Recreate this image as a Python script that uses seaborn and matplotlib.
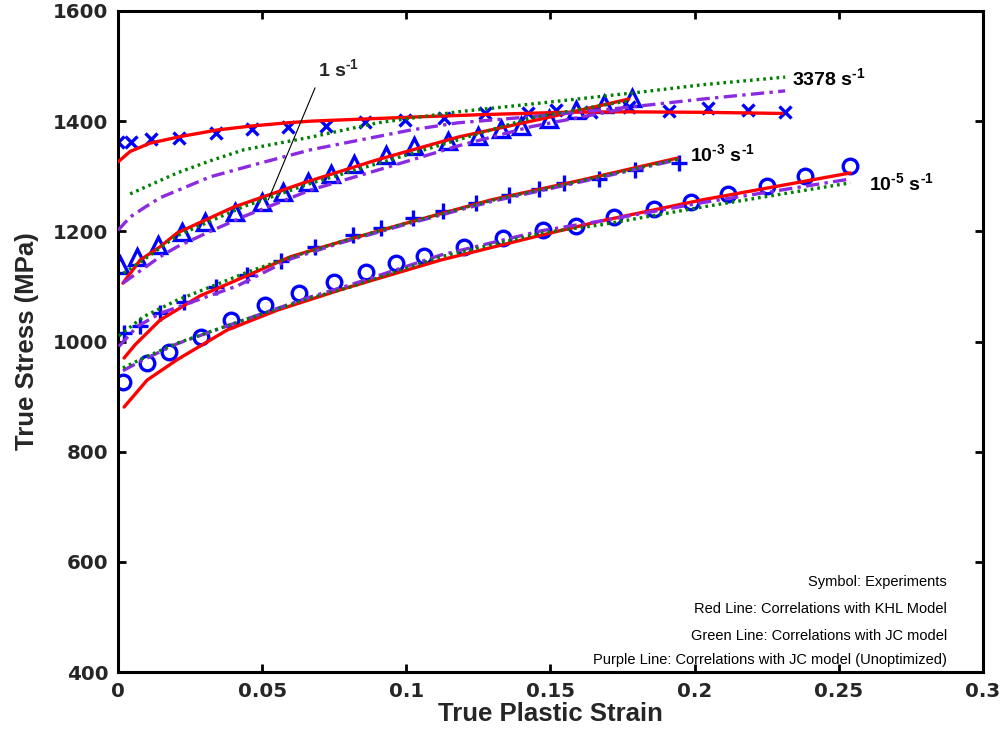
import numpy as np
import pandas as pd
import matplotlib
matplotlib.use("Agg")
import matplotlib.pyplot as plt
import seaborn as sns

sns.set_theme(style="white")
plt.rcParams["font.family"] = ["Liberation Sans", "DejaVu Sans"]
plt.rcParams["mathtext.fontset"] = "custom"
plt.rcParams["mathtext.rm"] = "Liberation Sans"
plt.rcParams["mathtext.bf"] = "Liberation Sans:bold"

# ---- Experimental data (true plastic strain, true stress in MPa) ----
exp_3378_strain = [0.0, 0.0045, 0.0115, 0.0212, 0.034, 0.0466, 0.0588, 0.072, 0.0856, 0.0995,
                   0.113, 0.1273, 0.1423, 0.152, 0.1642, 0.1771, 0.191, 0.2046, 0.2185, 0.2314]
exp_3378_stress = [1362, 1362, 1368, 1370, 1379, 1386, 1390, 1391, 1398, 1402,
                   1406, 1414, 1414, 1420, 1416, 1425, 1418, 1423, 1420, 1416]

exp_1_strain = [0.0007, 0.0066, 0.0139, 0.0223, 0.0303, 0.0407, 0.0501, 0.0571, 0.0658, 0.0738,
                0.0818, 0.0929, 0.1027, 0.1145, 0.1249, 0.1329, 0.1399, 0.1496, 0.159, 0.1684, 0.1781]
exp_1_stress = [1139, 1153, 1175, 1199, 1217, 1235, 1253, 1271, 1289, 1304,
                1322, 1338, 1355, 1364, 1373, 1386, 1391, 1404, 1420, 1432, 1442]

exp_1e3_strain = [0.0021, 0.0077, 0.0146, 0.023, 0.0341, 0.0449, 0.0564, 0.0682, 0.0814, 0.0912,
                  0.1023, 0.1127, 0.1242, 0.1357, 0.1461, 0.1548, 0.1667, 0.1792, 0.1945]
exp_1e3_stress = [1016, 1028, 1052, 1072, 1099, 1121, 1146, 1172, 1193, 1206,
                  1224, 1237, 1251, 1266, 1277, 1288, 1295, 1311, 1324]

exp_1e5_strain = [0.0017, 0.0101, 0.0178, 0.0289, 0.0393, 0.0511, 0.0626, 0.0748, 0.0859, 0.0964,
                  0.1061, 0.12, 0.1336, 0.1475, 0.159, 0.1719, 0.1858, 0.1987, 0.2115, 0.2251,
                  0.2383, 0.254]
exp_1e5_stress = [927, 961, 981, 1008, 1039, 1066, 1088, 1108, 1126, 1143,
                  1155, 1172, 1188, 1203, 1210, 1226, 1241, 1253, 1268, 1282,
                  1300, 1319]

# ---- KHL model correlations ----
khl_3378_strain = [0.0, 0.0042, 0.0111, 0.0216, 0.0344, 0.0459, 0.0588, 0.0668, 0.1051, 0.1273,
                   0.1538, 0.1747, 0.2035, 0.2303]
khl_3378_stress = [1326, 1345, 1360, 1372, 1384, 1391, 1397, 1400, 1408, 1412,
                   1416, 1417, 1416, 1414]

khl_1_strain = [0.0017, 0.0077, 0.0146, 0.0205, 0.0401, 0.0644, 0.09, 0.1179, 0.1468, 0.1771]
khl_1_stress = [1106, 1148, 1172, 1197, 1244, 1288, 1330, 1371, 1404, 1440]

khl_1e3_strain = [0.0021, 0.0059, 0.0146, 0.0285, 0.0414, 0.0599, 0.0772, 0.098, 0.1294, 0.1607, 0.1941]
khl_1e3_stress = [970, 994, 1039, 1083, 1112, 1154, 1181, 1212, 1257, 1293, 1333]

khl_1e5_strain = [0.0021, 0.0101, 0.0205, 0.0379, 0.0553, 0.0790, 0.1120, 0.1468, 0.1677, 0.2025, 0.254]
khl_1e5_stress = [881, 930, 967, 1021, 1057, 1097, 1148, 1193, 1219, 1257, 1306]

# ---- JC model correlations (optimized) ----
jc_3378_strain = [0.0042, 0.0205, 0.0320, 0.0436, 0.0668, 0.0901, 0.1179, 0.1433, 0.1816, 0.2025, 0.2314]
jc_3378_stress = [1268, 1306, 1328, 1348, 1371, 1397, 1417, 1431, 1453, 1466, 1480]

jc_1_strain = [0.0019, 0.0088, 0.0205, 0.0436, 0.0668, 0.09, 0.1179, 0.1433, 0.1771]
jc_1_stress = [1124, 1148, 1192, 1245, 1287, 1323, 1366, 1406, 1437]

jc_1e3_strain = [0.0003, 0.0088, 0.0205, 0.0320, 0.0459, 0.0599, 0.0772, 0.098, 0.1294, 0.1607, 0.1941]
jc_1e3_stress = [1010, 1045, 1075, 1099, 1128, 1153, 1181, 1212, 1256, 1292, 1331]

jc_1e5_strain = [0.0017, 0.0088, 0.0205, 0.0436, 0.0668, 0.0807, 0.1120, 0.1468, 0.1677, 0.2025, 0.254]
jc_1e5_stress = [952, 970, 997, 1039, 1079, 1099, 1154, 1197, 1212, 1244, 1288]

# ---- JC model correlations (unoptimized) ----
jcu_3378_strain = [0.0, 0.0042, 0.0094, 0.0146, 0.0320, 0.0494, 0.0668, 0.0783, 0.1016, 0.1179,
                   0.1433, 0.1747, 0.2025, 0.2314]
jcu_3378_stress = [1202, 1226, 1244, 1261, 1299, 1324, 1348, 1360, 1384, 1397,
                   1408, 1424, 1440, 1455]

jcu_1_strain = [0.0017, 0.0146, 0.0205, 0.0320, 0.0436, 0.0668, 0.09, 0.1179, 0.1433, 0.1771]
jcu_1_stress = [1106, 1154, 1172, 1200, 1227, 1275, 1311, 1355, 1390, 1424]

jcu_1e3_strain = [0.0003, 0.0066, 0.0146, 0.0285, 0.0414, 0.0599, 0.0772, 0.098, 0.1294, 0.1607, 0.1941]
jcu_1e3_stress = [991, 1027, 1051, 1077, 1101, 1150, 1179, 1210, 1254, 1290, 1330]

jcu_1e5_strain = [0.0017, 0.0088, 0.0205, 0.0436, 0.0668, 0.0807, 0.1120, 0.1468, 0.1677, 0.2025, 0.254]
jcu_1e5_stress = [947, 967, 996, 1039, 1081, 1103, 1157, 1201, 1219, 1252, 1295]

rate_labels = ["3378 s$^{\\mathbf{\u20101}}$", "1 s$^{\\mathbf{\u20101}}$",
               "10$^{\\mathbf{\u20103}}$ s$^{\\mathbf{\u20101}}$",
               "10$^{\\mathbf{\u20105}}$ s$^{\\mathbf{\u20101}}$"]
legend_lines = ["Symbol: Experiments",
                "Red Line: Correlations with KHL Model",
                "Green Line: Correlations with JC model",
                "Purple Line: Correlations with JC model (Unoptimized)"]
legend_y = [564, 515, 466, 422]

x_ticks = [0, 0.05, 0.1, 0.15, 0.2, 0.25, 0.3]
x_ticklabels = ["0", "0.05", "0.1", "0.15", "0.2", "0.25", "0.3"]
y_ticks = [400, 600, 800, 1000, 1200, 1400, 1600]

BLUE = "#0000FF"
RED = "#FF0000"
GREEN = "#007F00"
PURPLE = "#8A2BE2"

fig = plt.figure(figsize=(10.02, 7.42), dpi=100)
ax = fig.add_axes([0.1178, 0.0943, 0.8632, 0.8909])

# experimental symbols
symbols = [
    (exp_3378_strain, exp_3378_stress, "x", 9, 2.4),
    (exp_1_strain, exp_1_stress, "^", 12, 2.4),
    (exp_1e3_strain, exp_1e3_stress, "+", 11, 2.4),
    (exp_1e5_strain, exp_1e5_stress, "o", 10.5, 2.4),
]
for xs, ys, mk, ms, mew in symbols:
    sns.lineplot(x=xs, y=ys, ax=ax, estimator=None, sort=False, linestyle="",
                 marker=mk, markersize=ms, markeredgewidth=mew, markerfacecolor="none",
                 markeredgecolor=BLUE, color=BLUE, zorder=2)

# model correlations
DASHDOT = (0, (4.0, 1.6, 1.0, 1.6))
DOTTED = (0, (0.8, 1.2))
curves = [
    (khl_3378_strain, khl_3378_stress, RED, "-"),
    (khl_1_strain, khl_1_stress, RED, "-"),
    (khl_1e3_strain, khl_1e3_stress, RED, "-"),
    (khl_1e5_strain, khl_1e5_stress, RED, "-"),
    (jcu_3378_strain, jcu_3378_stress, PURPLE, DASHDOT),
    (jcu_1_strain, jcu_1_stress, PURPLE, DASHDOT),
    (jcu_1e3_strain, jcu_1e3_stress, PURPLE, DASHDOT),
    (jcu_1e5_strain, jcu_1e5_stress, PURPLE, DASHDOT),
    (jc_3378_strain, jc_3378_stress, GREEN, DOTTED),
    (jc_1_strain, jc_1_stress, GREEN, DOTTED),
    (jc_1e3_strain, jc_1e3_stress, GREEN, DOTTED),
    (jc_1e5_strain, jc_1e5_stress, GREEN, DOTTED),
]
for xs, ys, col, ls in curves:
    sns.lineplot(x=xs, y=ys, ax=ax, estimator=None, sort=False, color=col,
                 linestyle=ls, linewidth=2.4, zorder=3)

ax.set_xlim(0, 0.3)
ax.set_ylim(400, 1600)
ax.set_xticks(x_ticks)
ax.set_xticklabels(x_ticklabels)
ax.set_yticks(y_ticks)
ax.set_yticklabels([str(v) for v in y_ticks])

tick_fp = matplotlib.font_manager.FontProperties(family="DejaVu Sans", weight="bold", size=14.3)
for lab in ax.get_xticklabels() + ax.get_yticklabels():
    lab.set_fontproperties(tick_fp)

ax.tick_params(axis="both", which="both", direction="in", length=6, width=2,
               top=True, right=True, bottom=True, left=True, color="black", pad=7)
for sp in ax.spines.values():
    sp.set_visible(True)
    sp.set_color("black")
    sp.set_linewidth(2.2)
ax.grid(False)

ax.set_xlabel("True Plastic Strain", fontsize=18.5, fontweight="bold", labelpad=1)
ax.set_ylabel("True Stress (MPa)", fontsize=18.5, fontweight="bold", labelpad=10)

# strain-rate labels
lab_kw = dict(fontsize=14, fontweight="bold", color="black", va="center", ha="left")
ax.text(0.2338, 1476, rate_labels[0], **lab_kw)
ax.annotate(rate_labels[1], xy=(exp_1_strain[6] + 0.002, 1257), xytext=(0.0765, 1494),
            fontsize=14, fontweight="bold", ha="center", va="center",
            arrowprops=dict(arrowstyle="-", color="black", lw=0.8, shrinkA=3, shrinkB=0,
                            relpos=(0.0, 0.0)))
ax.text(0.1983, 1339, rate_labels[2], **lab_kw)
ax.text(0.2603, 1286, rate_labels[3], **lab_kw)

# explanatory notes
for line, yv in zip(legend_lines, legend_y):
    ax.text(0.2875, yv, line, fontsize=10.5, ha="right", va="center", color="black")

fig.savefig("out.png", dpi=100)
